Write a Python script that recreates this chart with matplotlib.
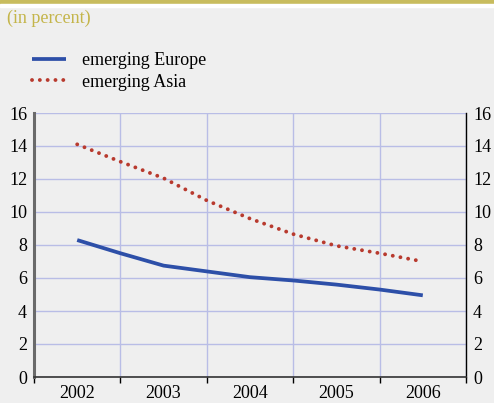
import matplotlib.pyplot as plt
from matplotlib.patches import Rectangle
import numpy as np

years = ['2002', '2003', '2004', '2005', '2006']
# half-year steps
pos = [0, 0.5, 1, 1.5, 2, 2.5, 3, 3.5, 4]
europe = [8.3, 7.5, 6.75, 6.4, 6.05, 5.85, 5.6, 5.3, 4.95]
asia = [14.1, 13.05, 12.05, 10.7, 9.6, 8.66, 7.95, 7.5, 7.0]

bg = '#efefef'
olive = '#c8bc5e'
blue = '#2d4fa8'
red = '#b83a2e'
grid = '#b9bde6'

plt.rcParams['font.family'] = ['Liberation Serif', 'DejaVu Serif']

fig = plt.figure(figsize=(4.94, 4.03), dpi=100, facecolor=bg)
fig.patches.append(Rectangle((0, 1 - 4/403), 1, 4/403, transform=fig.transFigure,
                             color=olive, zorder=0))
fig.patches.append(Rectangle((0, 1 - 7/403), 1, 3/403, transform=fig.transFigure,
                             color='white', zorder=0))
fig.text(7/494, 1 - 18/403, '(in percent)', color='#c4b54a', fontsize=13,
         va='center', ha='left')

ax = fig.add_axes([34/494, 1 - 377/403, 432/494, 264/403])
ax.set_facecolor(bg)

ax.plot(pos, europe, color=blue, lw=2.7, solid_capstyle='butt',
        label='emerging Europe', zorder=3)
ax.plot(pos, asia, color=red, lw=2.8, linestyle=(0, (0.01, 2.0)),
        dash_capstyle='round', label='emerging Asia', zorder=3)

ax.set_xlim(-0.5, 4.5)
ax.set_ylim(0, 16)
ax.set_yticks(range(0, 17, 2))
ax.set_xticks(range(len(years)))
ax.set_xticklabels(years)
ax.set_xticks(np.arange(-0.5, 4.6, 1), minor=True)

ax.grid(axis='y', color=grid, lw=1)
ax.grid(axis='x', which='minor', color=grid, lw=1)
ax.set_axisbelow(True)

ax.tick_params(axis='x', which='major', length=0, labelsize=13, pad=6)
ax.tick_params(axis='x', which='minor', length=4, width=1, color='black',
               direction='out')
ax.tick_params(axis='y', length=0, labelsize=13, labelright=True, pad=5)

ax.spines['top'].set_visible(False)
ax.spines['left'].set_color('#6a6a6a')
ax.spines['left'].set_linewidth(2.2)
ax.spines['right'].set_color('black')
ax.spines['right'].set_linewidth(1)
ax.spines['bottom'].set_color('#333333')
ax.spines['bottom'].set_linewidth(1.2)

fig.legend(loc='upper left', bbox_to_anchor=(32/494, 1 - 52/403), frameon=False,
           fontsize=13, handlelength=1.9, handletextpad=0.85, labelspacing=0.25,
           borderaxespad=0, borderpad=0)

fig.savefig('out.png', dpi=100, facecolor=bg)
